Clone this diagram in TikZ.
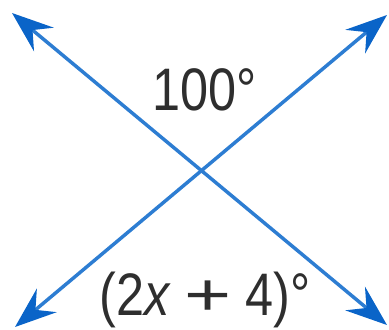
\documentclass[tikz,border=0pt]{standalone}
\usepackage{fontspec}
\setmainfont{Liberation Sans}
\usetikzlibrary{arrows.meta}
\definecolor{lineblue}{RGB}{45,125,210}
\definecolor{tipblue}{RGB}{10,100,200}
\tikzset{
  ray/.style={draw=lineblue, line width=2.6pt,
    arrows={Stealth[length=31pt,width=23pt,inset=11pt,color=tipblue]-Stealth[length=31pt,width=23pt,inset=11pt,color=tipblue]}},
  lbl/.style={inner sep=0pt, anchor=base, font=\fontsize{45pt}{50pt}\selectfont, text=black!82}
}
\begin{document}
\begin{tikzpicture}[x=0.75pt,y=-0.75pt]
\useasboundingbox (0,0) rectangle (389,329);
\coordinate (a1) at (12,13);
\coordinate (a2) at (387,325);
\coordinate (b1) at (15,327);
\coordinate (b2) at (387,15);
\draw[ray] (a1) -- (a2);
\draw[ray] (b1) -- (b2);
\node[lbl] (top) at (205,110) {\scalebox{0.84}[1]{100°}};
\node[lbl] (bot) at (205,315) {\scalebox{0.84}[1]{(2\textit{x}\hspace{12pt}\scalebox{1.6}[1]{+}\hspace{12pt}4)°}};
\end{tikzpicture}
\end{document}
